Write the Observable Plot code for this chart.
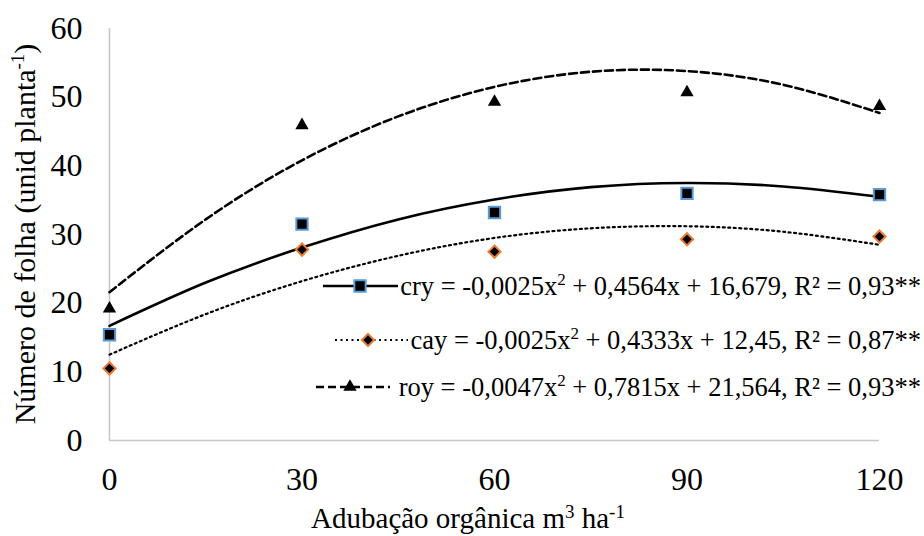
<!DOCTYPE html>
<html>
<head>
<meta charset="utf-8">
<script src="https://cdn.jsdelivr.net/npm/d3@7"></script>
<script src="https://cdn.jsdelivr.net/npm/@observablehq/plot@0.6"></script>
<style>
  html, body { margin: 0; padding: 0; background: #fff; }
  #chart { width: 924px; height: 536px; }
  #chart svg, #chart svg text, #chart svg tspan { font-family: 'Liberation Serif', 'DejaVu Serif', serif !important; }
</style>
</head>
<body>
<div id="chart"></div>
<script>
// ---- data ----
const doses = [0, 30, 60, 90, 120];
const cry = [15.4, 31.5, 33.2, 36.0, 35.8];
const cay = [10.5, 27.8, 27.5, 29.3, 29.7];
const roy = [19.2, 45.9, 49.3, 50.7, 48.7];

// fitted curves, values
const fitDoses = [0, 15, 30, 45, 60, 75, 90, 105, 120];
const cryFit = [16.7, 23.0, 28.1, 32.2, 35.1, 36.9, 37.5, 37.0, 35.5];
const cayFit = [12.5, 18.4, 23.2, 26.9, 29.5, 30.9, 31.2, 30.4, 28.5];
const royFit = [21.6, 32.2, 40.8, 47.2, 51.5, 53.7, 53.8, 51.8, 47.7];

const xTicks = [0, 30, 60, 90, 120];
const yTicks = [0, 10, 20, 30, 40, 50, 60];

const legendLabels = [
  ["cry = -0,0025x", "2", " + 0,4564x + 16,679, R² = 0,93**"],
  ["cay = -0,0025x", "2", " + 0,4333x + 12,45, R² = 0,87**"],
  ["roy = -0,0047x", "2", " + 0,7815x + 21,564, R² = 0,93**"]
];

const pts = (ys) => doses.map((d, i) => ({x: d, y: ys[i]}));
const fit = (ys) => fitDoses.map((d, i) => ({x: d, y: ys[i]}));

const axisColor = "#c8c8c8";
const FONT = "'Liberation Serif', 'DejaVu Serif', serif";

const plot = Plot.plot({
  width: 924,
  height: 536,
  marginLeft: 109,
  marginRight: 45,
  marginTop: 28,
  marginBottom: 96,
  style: {fontFamily: FONT, color: "#000", background: "#fff"},
  x: {domain: [0, 120]},
  y: {domain: [0, 60]},
  marks: [
    Plot.ruleY([0], {stroke: axisColor, strokeWidth: 1.6}),
    Plot.ruleX([0], {stroke: axisColor, strokeWidth: 1.6}),
    Plot.axisX({ticks: xTicks, tickSize: 0, tickPadding: 27, fontSize: 32, label: null}),
    Plot.axisY({ticks: yTicks, tickSize: 0, tickPadding: 27, fontSize: 32, label: null}),
    Plot.line(fit(royFit), {x: "x", y: "y", curve: "natural", stroke: "#000", strokeWidth: 2.6, strokeDasharray: "8,4"}),
    Plot.line(fit(cryFit), {x: "x", y: "y", curve: "natural", stroke: "#000", strokeWidth: 2.6}),
    Plot.line(fit(cayFit), {x: "x", y: "y", curve: "natural", stroke: "#000", strokeWidth: 2.2, strokeDasharray: "2,3.5"}),
    Plot.dot(pts(roy), {x: "x", y: "y", symbol: "triangle", r: 4.95, fill: "#000", stroke: "none"}),
    Plot.dot(pts(cry), {x: "x", y: "y", symbol: "square", r: 6.4, fill: "#000", stroke: "#5b9bd5", strokeWidth: 2}),
    Plot.dot(pts(cay), {x: "x", y: "y", symbol: "diamond2", r: 5.5, fill: "#000", stroke: "#ed7d31", strokeWidth: 2})
  ]
});

document.getElementById("chart").appendChild(plot);

const svg = d3.select(plot);

// ---- axis titles ----
const yl = svg.append("text")
  .attr("transform", "translate(35,234) rotate(-90)")
  .attr("text-anchor", "middle")
  .attr("font-size", 30)
  .attr("fill", "#000");
yl.append("tspan").text("Número de folha (unid planta");
yl.append("tspan").attr("font-size", 19).attr("dy", -11).text("-1");
yl.append("tspan").attr("dy", 11).text(")");

const xl = svg.append("text")
  .attr("x", 468)
  .attr("y", 528)
  .attr("text-anchor", "middle")
  .attr("font-size", 29)
  .attr("fill", "#000");
xl.append("tspan").text("Adubação orgânica m");
xl.append("tspan").attr("font-size", 19).attr("dy", -10).text("3");
xl.append("tspan").attr("dy", 10).text(" ha");
xl.append("tspan").attr("font-size", 19).attr("dy", -10).text("-1");

// ---- legend ----
const rows = [
  {y: 286, x1: 323, x2: 398, mx: 360, dash: null, sw: 2.6, sym: d3.symbolSquare, size: 128, fill: "#000", stroke: "#5b9bd5"},
  {y: 340, x1: 335, x2: 408, mx: 368, dash: "2,3.5", sw: 2.2, sym: d3.symbolDiamond2, size: 95, fill: "#000", stroke: "#ed7d31"},
  {y: 387, x1: 316, x2: 390, mx: 350, dash: "8,4", sw: 2.6, sym: d3.symbolTriangle, size: 77, fill: "#000", stroke: "none"}
];
const lg = svg.append("g");
rows.forEach((r, i) => {
  lg.append("line").attr("x1", r.x1).attr("x2", r.x2).attr("y1", r.y).attr("y2", r.y)
    .attr("stroke", "#000").attr("stroke-width", r.sw).attr("stroke-dasharray", r.dash);
  lg.append("path").attr("d", d3.symbol(r.sym, r.size)())
    .attr("transform", `translate(${r.mx},${r.y})`)
    .attr("fill", r.fill).attr("stroke", r.stroke).attr("stroke-width", 2);
  const t = lg.append("text").attr("x", 921).attr("y", r.y + 9)
    .attr("text-anchor", "end").attr("font-size", 26.5).attr("fill", "#000");
  const L = legendLabels[i];
  t.append("tspan").text(L[0]);
  t.append("tspan").attr("font-size", 17).attr("dy", -10).text(L[1]);
  t.append("tspan").attr("dy", 10).text(L[2]);
});
</script>
</body>
</html>
